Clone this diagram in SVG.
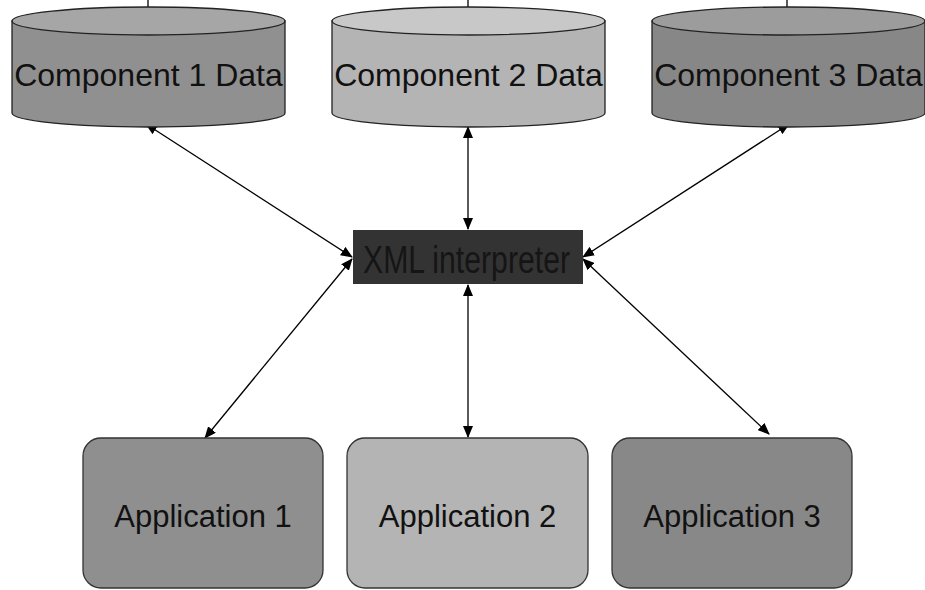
<svg xmlns="http://www.w3.org/2000/svg" width="925" height="590" viewBox="0 0 925 590">
<defs>
<style>
.lbl{font-family:"Liberation Sans",Arial,sans-serif;fill:#111;text-anchor:middle}
.cyl{stroke:#222;stroke-width:1.3}
.con{stroke:#000;stroke-width:1.3;fill:none;marker-start:url(#ah);marker-end:url(#ah)}
.app{stroke:#333;stroke-width:1.3}
</style>
<marker id="ah" viewBox="0 0 12 10" refX="11" refY="5" markerWidth="12" markerHeight="10" markerUnits="userSpaceOnUse" orient="auto-start-reverse">
<path d="M0,0 L12,5 L0,10 Z" fill="#000"/>
</marker>
</defs>
<rect width="925" height="590" fill="#fff"/>
<g id="connectors">
<line class="con" x1="146" y1="124" x2="352" y2="257"/>
<line class="con" x1="468" y1="127" x2="468" y2="229"/>
<line class="con" x1="789" y1="124" x2="583" y2="257"/>
<line class="con" x1="352" y1="259" x2="205" y2="438"/>
<line class="con" x1="468" y1="285" x2="468" y2="437"/>
<line class="con" x1="583" y1="259" x2="769" y2="434"/>
</g>
<g id="comp1">
<line x1="148" y1="0" x2="148" y2="8" stroke="#000" stroke-width="1.3"/>
<path class="cyl" d="M12,21 L12,113 A136.5,14 0 0 0 285,113 L285,21 Z" fill="#909090"/>
<ellipse class="cyl" cx="148.5" cy="21" rx="136.5" ry="14" fill="#a6a6a6"/>
<text class="lbl" x="148.5" y="86" font-size="32">Component 1 Data</text>
</g>
<g id="comp2">
<line x1="468" y1="0" x2="468" y2="8" stroke="#000" stroke-width="1.3"/>
<path class="cyl" d="M332,21 L332,113 A136.5,14 0 0 0 605,113 L605,21 Z" fill="#b4b4b4"/>
<ellipse class="cyl" cx="468.5" cy="21" rx="136.5" ry="14" fill="#c8c8c8"/>
<text class="lbl" x="468.5" y="86" font-size="32">Component 2 Data</text>
</g>
<g id="comp3">
<line x1="787" y1="0" x2="787" y2="8" stroke="#000" stroke-width="1.3"/>
<path class="cyl" d="M652,21 L652,113 A136.5,14 0 0 0 925,113 L925,21 Z" fill="#878787"/>
<ellipse class="cyl" cx="788.5" cy="21" rx="136.5" ry="14" fill="#9c9c9c"/>
<text class="lbl" x="788.5" y="86" font-size="32">Component 3 Data</text>
</g>
<g id="xml">
<rect x="353" y="230" width="230" height="54" fill="#333333"/>
<text x="363" y="273" font-family="'Liberation Sans',Arial,sans-serif" font-size="39" fill="#151515" textLength="207" lengthAdjust="spacingAndGlyphs">XML interpreter</text>
</g>
<g id="app1">
<rect class="app" x="83" y="438" width="240" height="150" rx="18" fill="#8f8f8f"/>
<text class="lbl" x="203" y="527" font-size="31">Application 1</text>
</g>
<g id="app2">
<rect class="app" x="347" y="438" width="241" height="150" rx="18" fill="#b4b4b4"/>
<text class="lbl" x="467.5" y="527" font-size="31">Application 2</text>
</g>
<g id="app3">
<rect class="app" x="612" y="438" width="240" height="150" rx="18" fill="#888888"/>
<text class="lbl" x="732" y="527" font-size="31">Application 3</text>
</g>
</svg>
